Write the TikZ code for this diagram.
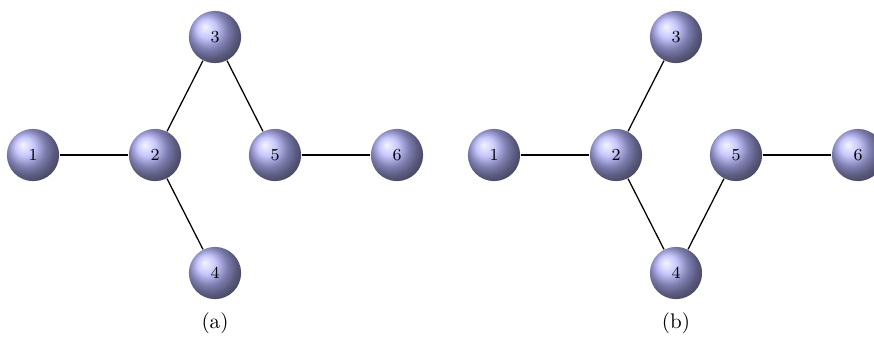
\documentclass[tikz,border=0pt]{standalone}
\definecolor{ballc}{RGB}{180,180,252}
\begin{document}
\begin{tikzpicture}[x=0.016667cm,y=-0.016667cm,
  vtx/.style={circle,shading=ball,ball color=ballc,minimum size=0.87cm,inner sep=0pt,font=\footnotesize},
  edge/.style={draw=black,line width=0.6pt}]
\useasboundingbox (0,0) rectangle (874,340);
% (a)
\node[vtx] (a1) at (33,155) {1};
\node[vtx] (a2) at (155,155) {2};
\node[vtx] (a3) at (215,37) {3};
\node[vtx] (a4) at (215,273) {4};
\node[vtx] (a5) at (275,155) {5};
\node[vtx] (a6) at (397,155) {6};
\draw[edge] (a1) -- (a2);
\draw[edge] (a2) -- (a3);
\draw[edge] (a2) -- (a4);
\draw[edge] (a3) -- (a5);
\draw[edge] (a5) -- (a6);
\node (la) at (215,323) {(a)};
% (b)
\node[vtx] (b1) at (494,155) {1};
\node[vtx] (b2) at (616,155) {2};
\node[vtx] (b3) at (676,37) {3};
\node[vtx] (b4) at (676,273) {4};
\node[vtx] (b5) at (736,155) {5};
\node[vtx] (b6) at (858,155) {6};
\draw[edge] (b1) -- (b2);
\draw[edge] (b2) -- (b3);
\draw[edge] (b2) -- (b4);
\draw[edge] (b4) -- (b5);
\draw[edge] (b5) -- (b6);
\node (lb) at (676,323) {(b)};
\end{tikzpicture}
\end{document}
